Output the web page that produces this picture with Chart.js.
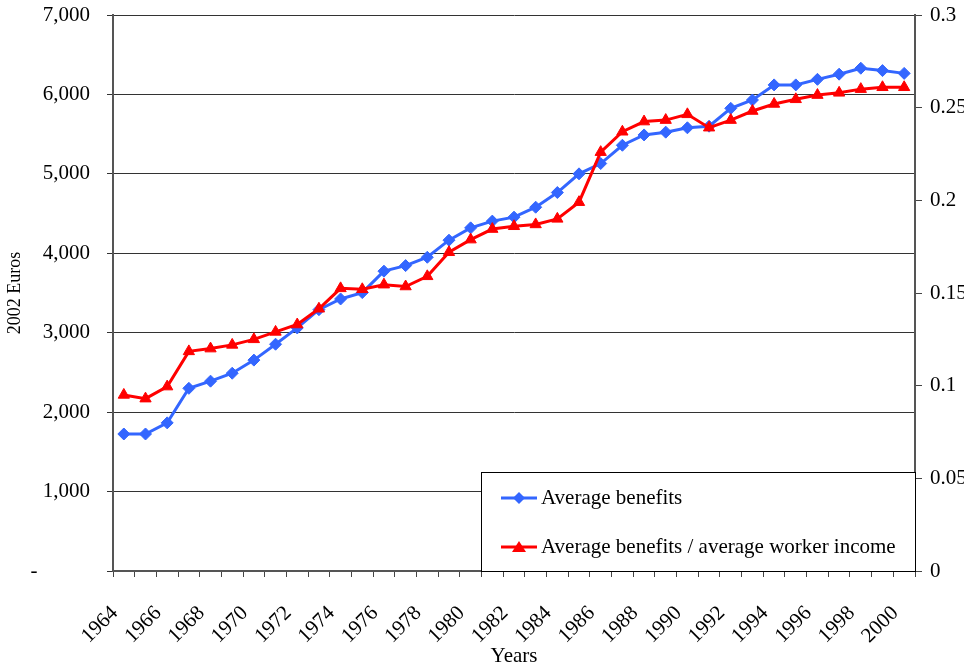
<!DOCTYPE html>
<html>
<head>
<meta charset="utf-8">
<script src="https://cdn.jsdelivr.net/npm/chart.js@4/dist/chart.umd.min.js"></script>
<style>
  body { margin: 0; background: #fff; }
  #wrap { width: 964px; height: 667px; }
</style>
</head>
<body>
<div id="wrap"><canvas id="chart" width="964" height="667"></canvas></div>
<script>
const years = ['1964','1965','1966','1967','1968','1969','1970','1971','1972','1973',
  '1974','1975','1976','1977','1978','1979','1980','1981','1982','1983','1984','1985',
  '1986','1987','1988','1989','1990','1991','1992','1993','1994','1995','1996','1997',
  '1998','1999','2000'];

// average benefits, 2002 euros (left axis)
const avgBenefits = [1725, 1725, 1865, 2300, 2390, 2490, 2655, 2855, 3060, 3290,
  3425, 3505, 3775, 3845, 3950, 4165, 4320, 4405, 4455, 4580, 4765, 5000,
  5130, 5360, 5490, 5525, 5580, 5600, 5825, 5930, 6120, 6120, 6190, 6255,
  6330, 6300, 6265];

// average benefits / average worker income (right axis)
const benefitRatio = [0.095, 0.093, 0.0995, 0.1185, 0.120, 0.122, 0.125, 0.129, 0.133, 0.1415,
  0.1525, 0.152, 0.1545, 0.1535, 0.159, 0.172, 0.1788, 0.1845, 0.186, 0.187, 0.190, 0.199,
  0.226, 0.237, 0.2425, 0.2433, 0.2464, 0.2392, 0.2433, 0.2482, 0.252, 0.2545, 0.2568, 0.258,
  0.260, 0.261, 0.261];

const seriesNames = ['Average benefits', 'Average benefits / average worker income'];

const serif = 'Liberation Serif, Times New Roman, serif';
const axisColor = '#555';

// legend box sitting inside the plot, bottom right
const boxLegend = {
  id: 'boxLegend',
  afterDatasetsDraw(chart) {
    const ctx = chart.ctx;
    const area = chart.chartArea;
    const x0 = 481, y0 = 472;
    ctx.save();
    ctx.fillStyle = '#fff';
    ctx.fillRect(x0, y0, area.right - x0, area.bottom - y0);
    ctx.strokeStyle = '#000';
    ctx.lineWidth = 1;
    ctx.strokeRect(x0 + 0.5, y0 + 0.5, area.right - x0, area.bottom - y0);
    ctx.font = '21px ' + serif;
    ctx.textBaseline = 'middle';
    chart.data.datasets.forEach((ds, i) => {
      const cy = 498 + i * 49;
      ctx.strokeStyle = ds.borderColor;
      ctx.lineWidth = 3;
      ctx.beginPath();
      ctx.moveTo(501, cy);
      ctx.lineTo(537, cy);
      ctx.stroke();
      ctx.fillStyle = ds.borderColor;
      ctx.beginPath();
      if (ds.pointStyle === 'triangle') {
        ctx.moveTo(519, cy - 6);
        ctx.lineTo(526, cy + 5);
        ctx.lineTo(512, cy + 5);
      } else {
        ctx.moveTo(519, cy - 6);
        ctx.lineTo(525, cy);
        ctx.lineTo(519, cy + 6);
        ctx.lineTo(513, cy);
      }
      ctx.closePath();
      ctx.fill();
      ctx.fillStyle = '#000';
      ctx.fillText(ds.label, 541, cy);
    });
    ctx.restore();
  }
};

function noVertPad(scale, w) {
  scale.width = w;
  scale.paddingTop = 0;
  scale.paddingBottom = 0;
}

new Chart(document.getElementById('chart'), {
  type: 'line',
  data: {
    labels: years,
    datasets: [
      {
        label: seriesNames[0],
        data: avgBenefits,
        yAxisID: 'y',
        borderColor: '#3366ff',
        backgroundColor: '#3366ff',
        borderWidth: 3,
        pointStyle: 'rectRot',
        pointRadius: 6,
        pointBorderWidth: 1,
        tension: 0,
        order: 1
      },
      {
        label: seriesNames[1],
        data: benefitRatio,
        yAxisID: 'y2',
        borderColor: '#ff0000',
        backgroundColor: '#ff0000',
        borderWidth: 3,
        pointStyle: 'triangle',
        pointRadius: 6.5,
        pointBorderWidth: 1,
        tension: 0,
        order: 0
      }
    ]
  },
  options: {
    responsive: false,
    animation: false,
    layout: { padding: { top: 15, right: 0, bottom: 0, left: 0 } },
    plugins: {
      legend: { display: false },
      tooltip: { enabled: false }
    },
    scales: {
      x: {
        offset: true,
        grid: { offset: true, drawOnChartArea: false, tickLength: 6, color: '#444' },
        border: { color: axisColor, width: 2 },
        ticks: {
          autoSkip: false,
          minRotation: 45,
          maxRotation: 45,
          padding: 24,
          labelOffset: -9,
          color: '#000',
          font: { family: serif, size: 21 },
          callback: function (v, i) { return i % 2 === 0 ? this.getLabelForValue(v) : ''; }
        },
        title: { display: true, text: 'Years', color: '#000', font: { family: serif, size: 21 }, padding: { top: 0, bottom: -2 } },
        afterFit(scale) { scale.height = 96; scale.paddingLeft = 0; scale.paddingRight = 0; }
      },
      y: {
        position: 'left',
        min: 0,
        max: 7000,
        grid: { color: '#333', tickLength: 6 },
        border: { color: axisColor, width: 2 },
        ticks: {
          stepSize: 1000,
          padding: 17,
          color: '#000',
          font: { family: serif, size: 21 },
          callback: v => v === 0 ? '-          ' : v.toLocaleString('en-US')
        },
        title: { display: true, text: '2002 Euros', color: '#000', font: { family: serif, size: 18 }, padding: { top: 4, bottom: 0 } },
        afterFit(scale) { noVertPad(scale, 113); }
      },
      y2: {
        position: 'right',
        min: 0,
        max: 0.3,
        grid: { drawOnChartArea: false, tickLength: 7, color: '#444' },
        border: { color: axisColor, width: 2 },
        ticks: {
          stepSize: 0.05,
          padding: 8,
          color: '#000',
          font: { family: serif, size: 21 },
          callback: v => String(+v.toFixed(2))
        },
        afterFit(scale) { noVertPad(scale, 49); }
      }
    }
  },
  plugins: [boxLegend]
});
</script>
</body>
</html>
